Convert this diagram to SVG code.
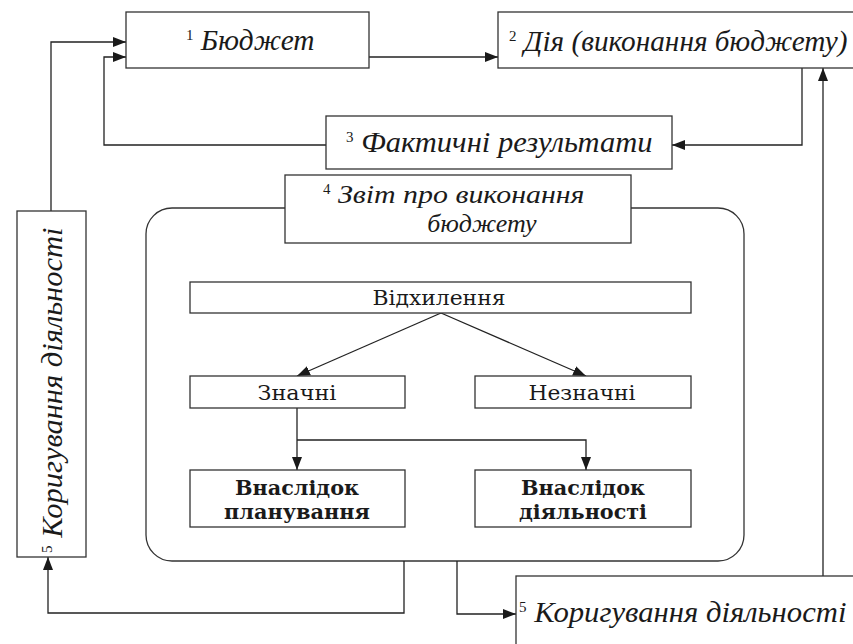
<svg xmlns="http://www.w3.org/2000/svg" width="853" height="644" viewBox="0 0 853 644">
<defs>
<marker id="ah" markerUnits="userSpaceOnUse" markerWidth="14" markerHeight="10" refX="13" refY="5" orient="auto">
<path d="M0,0 L13,5 L0,10 Z" fill="#1a1a1a"/>
</marker>
<style>
.box{fill:#fff;stroke:#333;stroke-width:1.3}
.con{fill:none;stroke:#222;stroke-width:1.3}
.it{font-family:"Liberation Serif","DejaVu Serif",serif;font-style:italic;font-size:29px;fill:#1a1a1a}
.it2{font-size:26px}
.up{font-family:"DejaVu Serif","Liberation Serif",serif;font-size:20px;fill:#1a1a1a}
.bd{font-family:"DejaVu Serif","Liberation Serif",serif;font-weight:bold;font-size:20px;fill:#1a1a1a}
.sup{font-style:normal;font-size:15px}
</style>
</defs>
<rect width="853" height="644" fill="#fff"/>

<g id="report-frame">
<rect class="box" x="146" y="208" width="598" height="353" rx="26" ry="26"/>
</g>

<g id="connectors">
<path class="con" d="M369,57 H498" marker-end="url(#ah)"/>
<path class="con" d="M802,68 V145 H672" marker-end="url(#ah)"/>
<path class="con" d="M326,145 H104 V57 H126" marker-end="url(#ah)"/>
<path class="con" d="M51,221 V42 H126" marker-end="url(#ah)"/>
<path class="con" d="M404,561 V613 H48 V557" marker-end="url(#ah)"/>
<path class="con" d="M457,561 V614 H516" marker-end="url(#ah)"/>
<path class="con" d="M823,576 V68" marker-end="url(#ah)"/>
<path class="con" d="M441,313 L297,376" marker-end="url(#ah)"/>
<path class="con" d="M441,313 L586,376" marker-end="url(#ah)"/>
<path class="con" d="M297,408 V470" marker-end="url(#ah)"/>
<path class="con" d="M297,440 H586 V470" marker-end="url(#ah)"/>
</g>

<g id="budget">
<rect class="box" x="126" y="12" width="243" height="56"/>
<text class="it" x="186" y="50"><tspan class="sup" dy="-10">1</tspan><tspan dy="10" textLength="121" lengthAdjust="spacingAndGlyphs"> Бюджет</tspan></text>
</g>

<g id="action">
<rect class="box" x="498" y="12" width="370" height="56"/>
<text class="it" x="509" y="51"><tspan class="sup" dy="-10">2</tspan><tspan dy="10" textLength="331" lengthAdjust="spacingAndGlyphs"> Дія (виконання бюджету)</tspan></text>
</g>

<g id="actual-results">
<rect class="box" x="326" y="116" width="346" height="53"/>
<text class="it" x="346" y="152"><tspan class="sup" dy="-10">3</tspan><tspan dy="10" textLength="299" lengthAdjust="spacingAndGlyphs"> Фактичні результати</tspan></text>
</g>

<g id="report">
<rect class="box" x="285" y="175" width="346" height="68"/>
<text class="it it2" x="323" y="203"><tspan class="sup" dy="-9">4</tspan><tspan dy="9" textLength="254" lengthAdjust="spacingAndGlyphs"> Звіт про виконання</tspan></text>
<text class="it it2" x="482" y="232" text-anchor="middle">бюджету</text>
</g>

<g id="deviations">
<rect class="box" x="190" y="282" width="501" height="31"/>
<text class="up" x="439" y="305" text-anchor="middle" textLength="133" lengthAdjust="spacingAndGlyphs">Відхилення</text>
</g>

<g id="significant">
<rect class="box" x="190" y="376" width="215" height="32"/>
<text class="up" x="297" y="400" text-anchor="middle" textLength="79" lengthAdjust="spacingAndGlyphs">Значні</text>
</g>

<g id="insignificant">
<rect class="box" x="475" y="376" width="216" height="32"/>
<text class="up" x="582" y="400" text-anchor="middle" textLength="107" lengthAdjust="spacingAndGlyphs">Незначні</text>
</g>

<g id="planning">
<rect class="box" x="190" y="470" width="215" height="57"/>
<text class="bd" x="297" y="495" text-anchor="middle" textLength="124" lengthAdjust="spacingAndGlyphs">Внаслідок</text>
<text class="bd" x="297" y="519" text-anchor="middle" textLength="146" lengthAdjust="spacingAndGlyphs">планування</text>
</g>

<g id="activity">
<rect class="box" x="475" y="470" width="216" height="57"/>
<text class="bd" x="583" y="495" text-anchor="middle" textLength="124" lengthAdjust="spacingAndGlyphs">Внаслідок</text>
<text class="bd" x="583" y="519" text-anchor="middle" textLength="128" lengthAdjust="spacingAndGlyphs">діяльності</text>
</g>

<g id="correction-left">
<rect class="box" x="17" y="211" width="69" height="346"/>
<text class="it" transform="translate(62,553) rotate(-90)"><tspan class="sup" dy="-10">5</tspan><tspan dy="10" textLength="318" lengthAdjust="spacingAndGlyphs"> Коригування діяльності</tspan></text>
</g>

<g id="correction-bottom">
<rect class="box" x="516" y="576" width="360" height="90"/>
<text class="it" x="519" y="622"><tspan class="sup" dy="-10">5</tspan><tspan dy="10" textLength="320" lengthAdjust="spacingAndGlyphs"> Коригування діяльності</tspan></text>
</g>
</svg>
